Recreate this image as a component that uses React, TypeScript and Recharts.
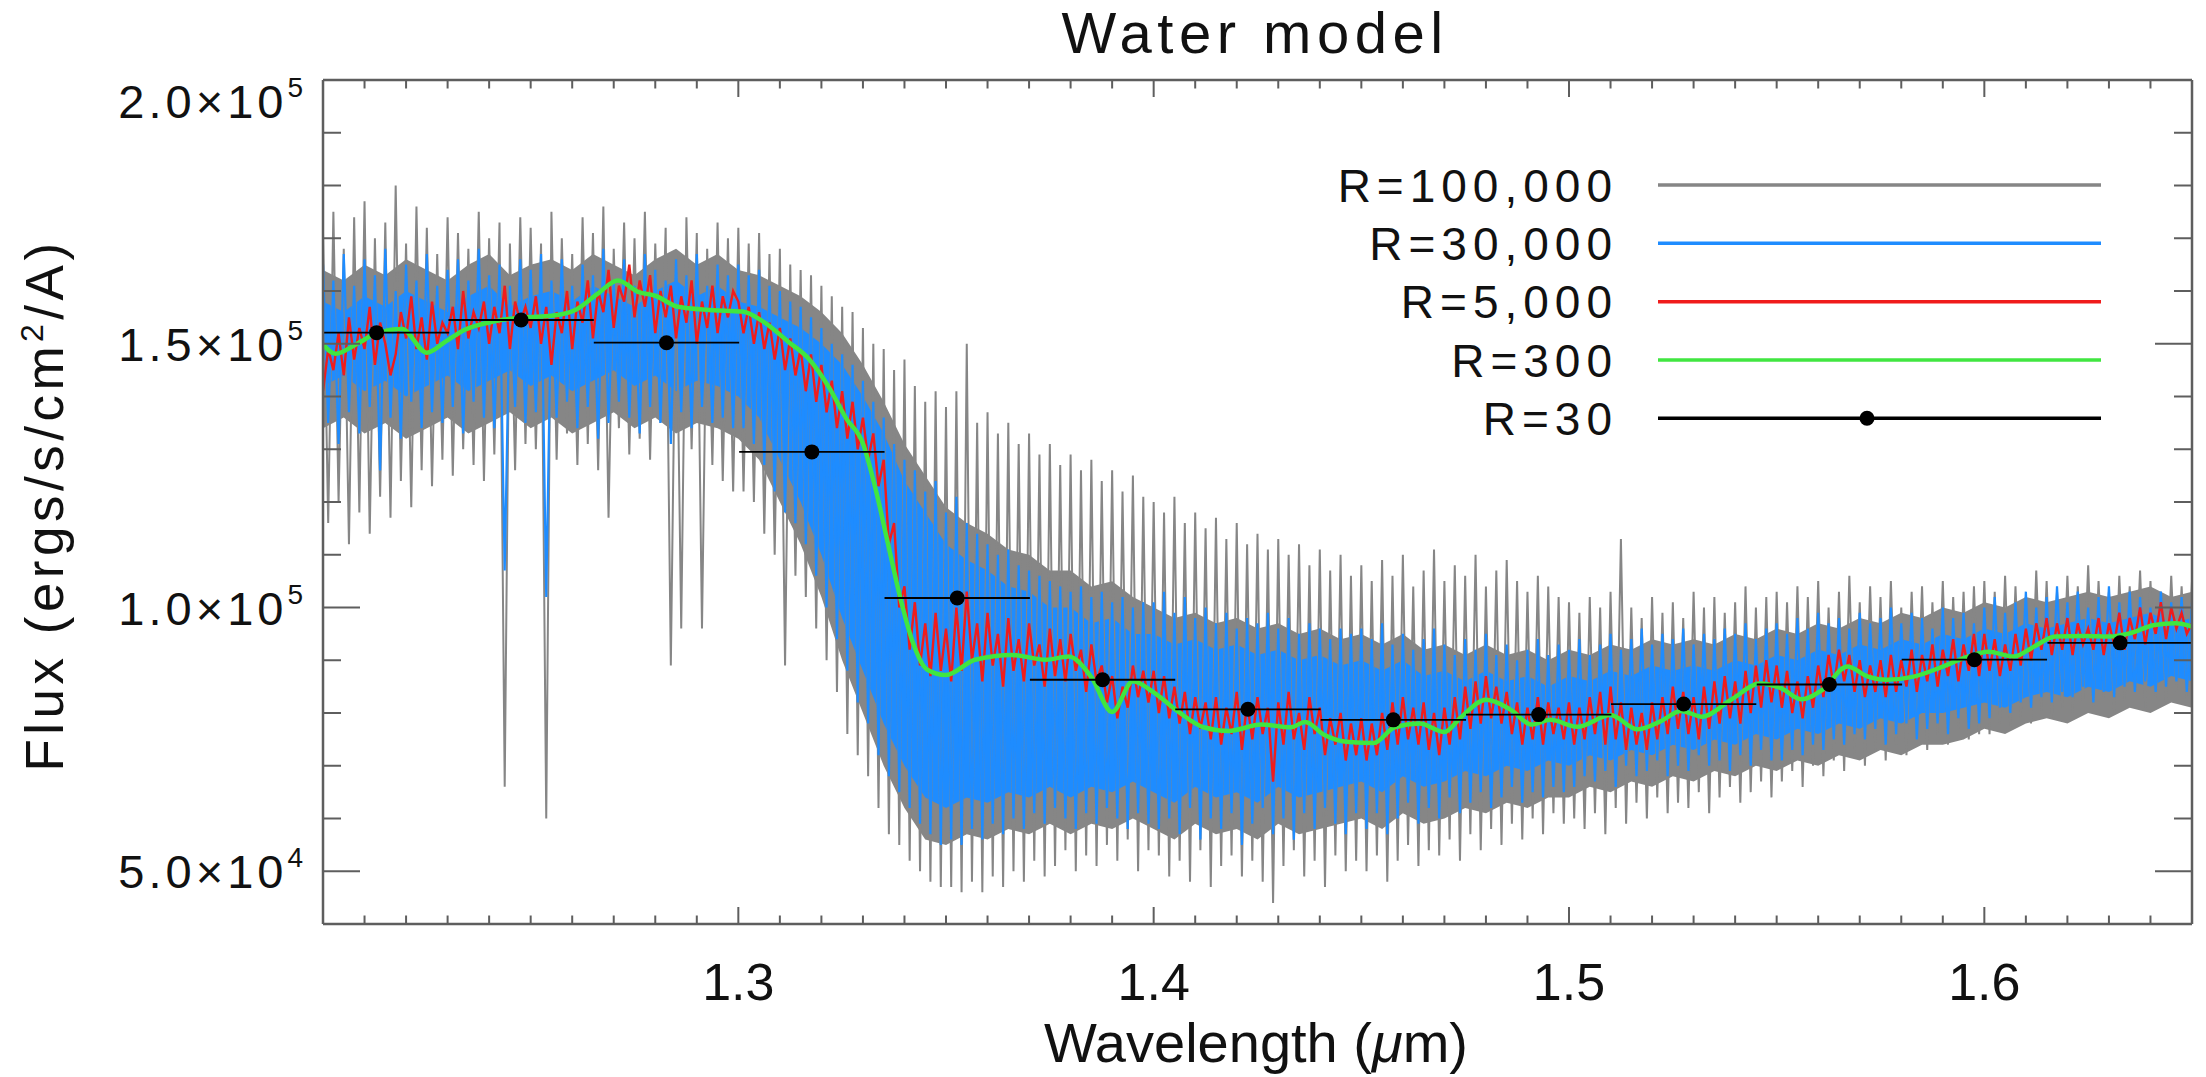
import { ComposedChart, Line, Area, Scatter, ErrorBar, XAxis, YAxis } from 'recharts'

const W = 2206
const H = 1077
// plot box: x 323..2192, y 80..924 (axes take 1px each)
const MARGIN = { top: 79, right: 13, bottom: 152, left: 322 }
const FONT = '"Liberation Sans", Arial, sans-serif'
const AXIS = '#5e5e5e'
const X_MIN = 1.2
const X_MAX = 1.65

// noisy spectra are sampled every 0.00125 um from 1.2 um; flux in 1e3 ergs/s/cm2/A
const NOISE_STEP = 0.00125

// R=100,000
const r100k = [
  171, 116, 175, 120, 168, 112, 174, 118, 177, 114, 170, 121, 173, 117, 180, 124, 169, 119, 176, 126,
  172, 123, 167, 128, 174, 125, 171, 130, 168, 127, 175, 124, 170, 129, 173, 66, 169, 126, 174, 131,
  172, 130, 169, 60, 175, 128, 170, 133, 167, 127, 174, 131, 171, 126, 176, 117, 168, 134, 173, 129,
  170, 132, 175, 128, 169, 135, 172, 89, 167, 96, 174, 130, 171, 96, 168, 127, 173, 124, 170, 122,
  172, 122, 169, 120, 171, 114, 167, 110, 168, 89, 165, 106, 164, 102, 163, 96, 161, 90, 159, 84,
  157, 76, 156, 72, 153, 68, 150, 62, 149, 57, 145, 55, 147, 52, 142, 50, 139, 48, 141, 47,
  138, 47, 141, 46, 150, 48, 135, 46, 137, 49, 133, 47, 135, 50, 131, 48, 133, 52, 129, 49,
  131, 51, 127, 54, 129, 50, 126, 53, 128, 51, 124, 55, 126, 52, 122, 56, 125, 50, 121, 54,
  120, 53, 118, 49, 121, 52, 116, 48, 118, 54, 115, 47, 117, 51, 113, 53, 116, 49, 112, 52,
  114, 48, 111, 44, 113, 51, 110, 54, 112, 49, 108, 52, 111, 47, 107, 53, 110, 50, 106, 52,
  108, 50, 105, 53, 109, 48, 106, 52, 110, 55, 104, 51, 107, 54, 111, 53, 105, 56, 108, 52,
  106, 57, 110, 54, 104, 58, 107, 55, 109, 59, 105, 56, 103, 60, 106, 57, 104, 61, 102, 59,
  101, 60, 99, 58, 102, 61, 100, 57, 103, 62, 113, 59, 100, 63, 98, 60, 102, 64, 99, 61,
  101, 63, 98, 62, 103, 65, 100, 61, 102, 64, 99, 66, 101, 63, 104, 65, 100, 67, 102, 64,
  103, 67, 101, 69, 104, 66, 102, 70, 105, 68, 100, 71, 103, 69, 106, 72, 101, 70, 104, 73,
  102, 71, 105, 74, 100, 72, 103, 75, 104, 73, 101, 76, 105, 74, 102, 77, 103, 75, 104, 76,
  105, 76, 103, 78, 106, 77, 104, 79, 102, 78, 107, 80, 105, 79, 103, 81, 106, 80, 104, 82,
  108, 81, 105, 83, 103, 80, 106, 82, 104, 84, 107, 81, 105, 83, 103, 82, 106, 84, 104, 83,
  105,
]

// dense inner part of the R=100,000 band, every 0.005 um from 1.200
const r100kCoreLo = [
  134, 136, 133, 135, 132, 134, 136, 133, 135, 137, 134, 136, 133, 135, 137, 134, 136, 133, 135, 134,
  132, 128, 120, 112, 102, 90, 80, 70, 62, 56,
  55, 57, 56, 58, 57, 59, 57, 59, 58, 60,
  58, 56, 59, 57, 58, 56, 59, 57, 58, 59, 60, 58, 61, 59, 60, 62, 61, 63, 62, 64,
  64, 66, 65, 67, 66, 68, 67, 69, 68, 70, 69, 71, 70, 72, 71, 73, 72, 74, 74, 75,
  77, 76, 78, 79, 78, 80, 79, 81, 80, 82, 81,
]
const r100kCoreHi = [
  164, 162, 165, 163, 166, 164, 162, 165, 167, 163, 165, 166, 164, 167, 165, 163, 166, 168, 165, 167,
  164, 163, 161, 159, 156, 152, 146, 139, 131, 125,
  119, 116, 114, 111, 110, 107, 107, 104, 105, 102,
  100, 98, 99, 97, 98, 96, 97, 95, 96, 94, 95, 93, 95, 92, 93, 91, 93, 91, 92, 90,
  92, 91, 93, 92, 94, 93, 94, 93, 95, 94, 96, 95, 97, 96, 98, 97, 99, 98, 100, 99,
  101, 100, 102, 101, 102, 103, 102, 103, 104, 102, 103,
]

// R=30,000
const r30k = [
  165, 135, 162, 131, 167, 137, 161, 133, 166, 138, 163, 126, 168, 136, 160, 132, 165, 139, 162, 134,
  167, 137, 161, 135, 164, 138, 166, 133, 162, 139, 168, 136, 163, 134, 165, 107, 161, 138, 166, 135,
  164, 137, 167, 102, 162, 136, 166, 139, 161, 134, 165, 138, 163, 132, 168, 135, 162, 139, 166, 136,
  161, 133, 167, 138, 164, 135, 162, 131, 166, 137, 163, 134, 167, 138, 161, 135, 165, 136, 163, 134,
  165, 134, 163, 131, 164, 127, 161, 122, 160, 118, 158, 116, 157, 112, 155, 106, 153, 100, 150, 94,
  148, 88, 146, 82, 143, 78, 139, 72, 136, 68, 131, 65, 128, 62, 126, 59, 122, 57, 124, 55,
  118, 56, 121, 55, 116, 58, 114, 56, 112, 59, 110, 57, 111, 60, 108, 58, 107, 61, 106, 59,
  105, 62, 104, 60, 103, 58, 104, 61, 102, 59, 103, 62, 101, 60, 102, 58, 100, 61, 101, 59,
  101, 58, 103, 60, 99, 57, 102, 62, 98, 56, 100, 60, 97, 58, 99, 61, 96, 55, 98, 59,
  97, 62, 99, 57, 96, 60, 98, 56, 95, 61, 97, 58, 96, 62, 94, 59, 96, 57, 95, 61,
  96, 58, 94, 61, 97, 57, 93, 60, 95, 63, 92, 59, 94, 62, 96, 60, 93, 64, 91, 61,
  94, 63, 92, 65, 95, 62, 91, 64, 93, 66, 90, 63, 92, 65, 94, 64, 91, 66, 93, 65,
  92, 66, 94, 68, 91, 67, 93, 69, 95, 66, 92, 70, 94, 68, 96, 69, 93, 71, 95, 68,
  94, 70, 96, 69, 93, 72, 95, 70, 94, 71, 96, 69, 95, 72, 97, 70, 94, 73, 96, 71,
  97, 71, 95, 73, 98, 72, 96, 74, 99, 73, 97, 75, 98, 74, 96, 76, 99, 75, 97, 77,
  98, 74, 100, 76, 97, 78, 99, 75, 98, 77, 96, 78, 100, 76, 98, 79, 99, 77, 97, 78,
  100, 79, 102, 81, 99, 80, 101, 82, 103, 81, 100, 83, 102, 82, 104, 84, 101, 83, 103, 85,
  100, 82, 102, 84, 104, 83, 101, 85, 103, 84, 102, 86, 100, 84, 103, 85, 101, 86, 102, 84,
  101,
]

// solid inner part of the R=30,000 band, every 0.005 um from 1.200
const r30kCoreLo = [
  142, 144, 141, 143, 140, 142, 144, 141, 143, 145, 142, 144, 141, 143, 145, 142, 144, 141, 143, 142,
  140, 136, 128, 120, 110, 98, 88, 78, 70, 64,
  62, 64, 63, 65, 64, 66, 64, 66, 65, 67,
  65, 63, 66, 64, 65, 63, 66, 64, 65, 66, 67, 65, 68, 66, 67, 69, 68, 70, 69, 71,
  70, 72, 71, 73, 72, 74, 73, 75, 74, 76, 75, 77, 76, 78, 77, 79, 78, 80, 80, 81,
  82, 81, 83, 84, 83, 85, 84, 86, 85, 87, 86,
]
const r30kCoreHi = [
  158, 156, 159, 157, 160, 158, 156, 159, 161, 157, 159, 160, 158, 161, 159, 157, 160, 162, 159, 161,
  158, 157, 155, 153, 150, 146, 140, 133, 124, 118,
  112, 109, 107, 104, 103, 100, 100, 97, 98, 95,
  95, 93, 94, 92, 93, 91, 92, 90, 91, 89, 90, 88, 90, 87, 88, 86, 88, 86, 87, 85,
  87, 86, 88, 87, 89, 88, 89, 88, 90, 89, 91, 90, 92, 91, 93, 92, 94, 93, 95, 94,
  96, 95, 97, 96, 97, 98, 97, 98, 99, 97, 98,
]
const CORE_STEP = 0.005

// R=5,000
const r5k = [
  141, 149, 145, 152, 144, 155, 147, 153, 149, 157, 146, 154, 150, 144, 148, 156, 151, 159, 149, 155,
  147, 158, 150, 154, 152, 157, 149, 160, 151, 156, 153, 158, 150, 157, 152, 161, 149, 158, 154, 157,
  153, 159, 150, 157, 146, 156, 152, 160, 149, 158, 154, 162, 151, 160, 156, 164, 153, 161, 158, 165,
  155, 162, 157, 163, 152, 160, 155, 161, 151, 159, 154, 162, 150, 158, 153, 161, 152, 159, 155, 160,
  158, 152, 157, 150, 156, 149, 154, 147, 153, 145, 151, 144, 149, 141, 148, 139, 146, 137, 143, 134,
  141, 132, 139, 130, 136, 128, 133, 123, 128, 112, 116, 100, 104, 92, 101, 89, 97, 87, 99, 88,
  96, 86, 100, 88, 103, 90, 97, 86, 99, 89, 95, 85, 98, 88, 94, 86, 97, 89, 93, 85,
  96, 87, 94, 86, 95, 88, 92, 84, 93, 86, 89, 82, 87, 79, 85, 81, 89, 83, 88, 82,
  88, 80, 87, 79, 85, 78, 84, 76, 83, 77, 82, 75, 83, 74, 81, 76, 84, 73, 82, 75,
  83, 76, 81, 67, 82, 74, 84, 75, 80, 73, 83, 76, 81, 72, 79, 74, 80, 71, 78, 72,
  79, 71, 78, 72, 80, 73, 82, 74, 83, 75, 81, 74, 82, 73, 80, 72, 81, 74, 83, 75,
  85, 77, 86, 78, 87, 79, 85, 78, 84, 76, 82, 74, 81, 75, 83, 74, 82, 76, 81, 75,
  82, 74, 81, 75, 83, 76, 84, 74, 85, 75, 82, 73, 81, 74, 80, 73, 82, 75, 83, 76,
  85, 77, 84, 76, 83, 75, 85, 77, 86, 78, 87, 79, 86, 78, 88, 80, 89, 81, 90, 82,
  89, 81, 88, 80, 86, 79, 87, 81, 89, 83, 91, 85, 92, 86, 91, 84, 90, 83, 89, 84,
  90, 83, 91, 84, 90, 85, 92, 84, 91, 86, 93, 85, 92, 87, 94, 86, 93, 88, 95, 87,
  95, 88, 94, 87, 93, 88, 95, 89, 96, 90, 97, 92, 98, 91, 97, 92, 98, 91, 97, 93,
  96, 92, 98, 91, 97, 93, 99, 92, 98, 94, 100, 93, 99, 95, 101, 94, 100, 96, 99, 95,
  97,
]

// R=300
const r300X = [
  1.2, 1.203, 1.208, 1.213, 1.219, 1.225, 1.2295, 1.234, 1.241, 1.248, 1.255, 1.261, 1.266, 1.271,
  1.276, 1.28, 1.2855, 1.293, 1.301, 1.306, 1.312, 1.317, 1.322, 1.326, 1.33, 1.333, 1.336, 1.339,
  1.342, 1.3455, 1.35, 1.357, 1.366, 1.374, 1.3795, 1.385, 1.39, 1.395, 1.4, 1.406, 1.412, 1.418,
  1.426, 1.433, 1.4365, 1.441, 1.447, 1.453, 1.458, 1.464, 1.47, 1.474, 1.48, 1.486, 1.491, 1.4955,
  1.502, 1.51, 1.5165, 1.522, 1.527, 1.532, 1.539, 1.546, 1.551, 1.556, 1.561, 1.567, 1.572, 1.5765,
  1.583, 1.59, 1.596, 1.601, 1.607, 1.612, 1.617, 1.624, 1.63, 1.635, 1.641, 1.646, 1.65,
]
const r300Y = [
  149.9, 148.1, 149.9, 152.0, 152.8, 148.3, 150.4, 152.6, 154.2, 155.0, 155.3, 156.5, 159.4, 162.0,
  159.8, 159.1, 157.0, 156.4, 156.1, 154.2, 150.4, 147.1, 141.5, 135.8, 131.1, 122.6, 112.2, 101.8,
  93.4, 88.2, 87.2, 90.1, 91.0, 90.1, 90.7, 86.8, 80.2, 86.0, 83.9, 80.2, 77.3, 76.6,
  77.8, 77.3, 78.3, 75.9, 74.5, 74.3, 77.3, 78.0, 76.4, 79.2, 82.5, 80.6, 77.8, 78.7,
  77.4, 79.6, 76.9, 78.4, 80.4, 79.3, 82.5, 85.6, 84.7, 82.6, 84.4, 88.8, 86.9, 86.3,
  86.9, 88.8, 90.7, 91.6, 90.7, 92.6, 94.5, 94.6, 94.5, 95.1, 96.7, 97.0, 96.4,
]

// R=30 binned points
const r30X = [1.2129, 1.2477, 1.2827, 1.3177, 1.3527, 1.3877, 1.4227, 1.4577, 1.4927, 1.5276, 1.5627, 1.5976, 1.6327]
const r30Y = [152.1, 154.5, 150.2, 129.5, 101.8, 86.3, 80.7, 78.7, 79.7, 81.7, 85.4, 90.1, 93.3]
const R30_HALF_BIN = 0.0175

const xMajor = [1.3, 1.4, 1.5, 1.6]
const yMajor = [50000, 100000, 150000, 200000]
const xTicks = Array.from({ length: 46 }, (_, i) => +(1.2 + i * 0.01).toFixed(2))
const yTicks = Array.from({ length: 17 }, (_, i) => 40000 + i * 10000)

const GRAY = '#868686'
const BLUE = '#1e8cff'
const RED = '#f01c1c'
const GREEN = '#40e640'

const legendItems = [
  { label: 'R=100,000', color: GRAY, dot: false },
  { label: 'R=30,000', color: BLUE, dot: false },
  { label: 'R=5,000', color: RED, dot: false },
  { label: 'R=300', color: GREEN, dot: false },
  { label: 'R=30', color: '#000000', dot: true },
]

const noiseData = (vals: number[]) =>
  vals.map((v, i) => ({ x: +(X_MIN + i * NOISE_STEP).toFixed(5), y: v * 1000 }))
const bandData = (lo: number[], hi: number[]) =>
  lo.map((l, i) => ({ x: +(X_MIN + i * CORE_STEP).toFixed(3), band: [l * 1000, hi[i] * 1000] }))

const grayData = noiseData(r100k)
const blueData = noiseData(r30k)
const redData = noiseData(r5k)
const grayCore = bandData(r100kCoreLo, r100kCoreHi)
const blueCore = bandData(r30kCoreLo, r30kCoreHi)
const greenData = r300X.map((x, i) => ({ x, y: r300Y[i] * 1000 }))
// error bars are cut at the frame, like the plot window of the original
const pointData = r30X.map((x, i) => ({
  x,
  y: r30Y[i] * 1000,
  xerr: [Math.min(R30_HALF_BIN, x - X_MIN), Math.min(R30_HALF_BIN, X_MAX - x)],
}))

const near = (a: number, list: number[]) => list.some((b) => Math.abs(a - b) < 1e-6)

const XTick = (top: boolean) => (p: any) => {
  const v = p.payload.value
  const major = near(v, xMajor)
  const len = major ? 17 : 8.5
  return (
    <g>
      <line x1={p.x} x2={p.x} y1={p.y} y2={top ? p.y + len : p.y - len} stroke={AXIS} strokeWidth={2} />
      {!top && major && (
        <text x={p.x} y={p.y + 76} textAnchor="middle" fontSize={52} fontFamily={FONT} fill="#111">
          {v.toFixed(1)}
        </text>
      )}
    </g>
  )
}

const YTick = (right: boolean) => (p: any) => {
  const v = p.payload.value
  const major = near(v, yMajor)
  const len = major ? 37 : 18
  const e = Math.floor(Math.log10(v) + 1e-9)
  const m = (v / 10 ** e).toFixed(1)
  const shift = v === 200000 ? 21 : 0
  return (
    <g>
      <line x1={p.x} x2={right ? p.x - len : p.x + len} y1={p.y} y2={p.y} stroke={AXIS} strokeWidth={2} />
      {!right && major && (
        <text x={p.x - 16} y={p.y + 17 + shift} textAnchor="end" fontSize={47} fontFamily={FONT} fill="#111" letterSpacing={4}>
          {`${m}×10`}
          <tspan fontSize={28} dy={-21}>{e}</tspan>
        </text>
      )}
    </g>
  )
}

const Dot = (p: any) => <circle cx={p.cx} cy={p.cy} r={7.5} fill="#000" />

const axisCommon = {
  type: 'number' as const,
  allowDataOverflow: true,
  interval: 0 as const,
  tickSize: 0,
  tickMargin: 0,
  tickLine: false,
  axisLine: { stroke: AXIS, strokeWidth: 2.5 },
}

export default function App() {
  const rowY = [185, 243.3, 301.7, 360, 418.3]
  return (
    <div style={{ position: 'absolute', left: 0, top: 0, width: W, height: H, background: '#fff' }}>
      <ComposedChart width={W} height={H} margin={MARGIN}>
        <XAxis {...axisCommon} dataKey="x" domain={[X_MIN, X_MAX]} ticks={xTicks} height={1} tick={XTick(false)} />
        <XAxis {...axisCommon} xAxisId="top" orientation="top" dataKey="x" domain={[X_MIN, X_MAX]} ticks={xTicks} height={1} tick={XTick(true)} />
        <YAxis {...axisCommon} domain={[40000, 200000]} ticks={yTicks} width={1} tick={YTick(false)} />
        <YAxis {...axisCommon} yAxisId="right" orientation="right" domain={[40000, 200000]} ticks={yTicks} width={1} tick={YTick(true)} />
        <Line data={grayData} dataKey="y" type="linear" stroke={GRAY} strokeWidth={2} dot={false} isAnimationActive={false} />
        <Area data={grayCore} dataKey="band" type="linear" stroke="none" fill={GRAY} fillOpacity={1} isAnimationActive={false} />
        <Area data={blueCore} dataKey="band" type="linear" stroke="none" fill={BLUE} fillOpacity={1} isAnimationActive={false} />
        <Line data={blueData} dataKey="y" type="linear" stroke={BLUE} strokeWidth={2.2} dot={false} isAnimationActive={false} />
        <Line data={redData} dataKey="y" type="linear" stroke={RED} strokeWidth={2.4} dot={false} isAnimationActive={false} />
        <Line data={greenData} dataKey="y" type="monotone" stroke={GREEN} strokeWidth={4.5} dot={false} isAnimationActive={false} />
        <Scatter data={pointData} dataKey="y" shape={Dot} isAnimationActive={false}>
          <ErrorBar dataKey="xerr" direction="x" width={0} stroke="#000" strokeWidth={1.8} isAnimationActive={false} />
        </Scatter>
      </ComposedChart>
      <svg width={W} height={H} style={{ position: 'absolute', left: 0, top: 0, pointerEvents: 'none' }}>
        <text x={1255} y={53} textAnchor="middle" fontSize={58} fontFamily={FONT} letterSpacing={5.5} fill="#111">
          Water model
        </text>
        <text x={1256} y={1062} textAnchor="middle" fontSize={56} fontFamily={FONT} fill="#111">
          Wavelength (<tspan fontStyle="italic">μ</tspan>m)
        </text>
        <text
          x={63}
          y={505}
          transform="rotate(-90 63 505)"
          textAnchor="middle"
          fontSize={53}
          fontFamily={FONT}
          letterSpacing={4.5}
          fill="#111"
        >
          Flux (ergs/s/cm<tspan fontSize={32} dy={-20}>2</tspan>
          <tspan dy={20}>/A)</tspan>
        </text>
        {legendItems.map((it, i) => (
          <g key={it.label}>
            <text x={1618} y={rowY[i] + 16.5} textAnchor="end" fontSize={46} fontFamily={FONT} letterSpacing={6} fill="#111">
              {it.label}
            </text>
            <line x1={1658} x2={2101} y1={rowY[i]} y2={rowY[i]} stroke={it.color} strokeWidth={3.5} />
            {it.dot && <circle cx={1867} cy={rowY[i]} r={7.5} fill="#000" />}
          </g>
        ))}
      </svg>
    </div>
  )
}
